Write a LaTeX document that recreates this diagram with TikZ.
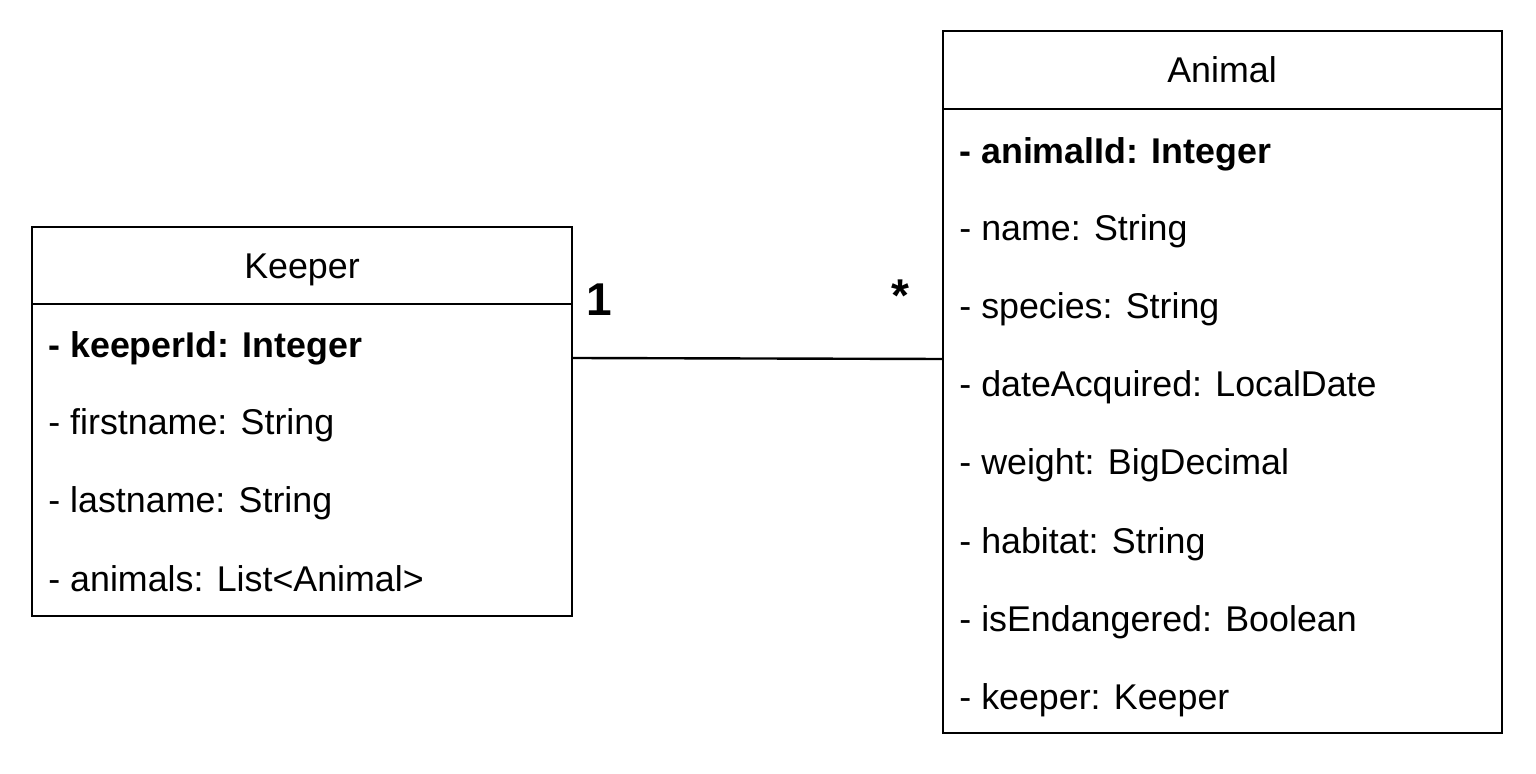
\documentclass[tikz,border=0pt]{standalone}
\usepackage{fontspec}
\setmainfont{Liberation Sans}
\usetikzlibrary{positioning}
\tikzset{
  classbox/.style={rectangle, draw=black, line width=1.4pt, anchor=north west,
                   inner sep=0pt, outer sep=0pt, fill=white},
  sepline/.style={line width=1.4pt},
  classname/.style={anchor=base, inner sep=0pt, font=\fontsize{17.9}{21}\selectfont},
  attr/.style={anchor=base west, inner sep=0pt, font=\fontsize{17.9}{21}\selectfont},
  keyattr/.style={attr, font=\fontsize{17.9}{21}\selectfont\bfseries},
  mult/.style={inner sep=0pt, font=\fontsize{23}{27}\selectfont\bfseries},
  assoc/.style={line width=1.2pt},
}

\begin{document}
\begin{tikzpicture}[x=0.5pt, y=-0.5pt]
  \useasboundingbox (0,0) rectangle (1536,774);
  % Keeper class
  \node[classbox, minimum width=270pt, minimum height=194.5pt] (keeper) at (32,227) {};
  \node[classname] (keepername) at (302,279) {Keeper};
  \draw[sepline] (keeper.west |- 0,304) -- (keeper.east |- 0,304);
  \node[keyattr] (keeperid) at (48,358) {- keeperId: Integer};
  \node[attr] (firstname) at (48,435) {- firstname: String};
  \node[attr] (lastname) at (48,513) {- lastname: String};
  \node[attr] (animals) at (48,591) {- animals: List<Animal>};
  % Animal class
  \node[classbox, minimum width=279.5pt, minimum height=351pt] (animal) at (943,31) {};
  \node[classname] (animalname) at (1222,83) {Animal};
  \draw[sepline] (animal.west |- 0,109) -- (animal.east |- 0,109);
  \node[keyattr] (animalid) at (959,164) {- animalId: Integer};
  \node[attr] (name) at (959,241) {- name: String};
  \node[attr] (species) at (959,319) {- species: String};
  \node[attr] (dateacq) at (959,397) {- dateAcquired: LocalDate};
  \node[attr] (weight) at (959,475) {- weight: BigDecimal};
  \node[attr] (habitat) at (959,553) {- habitat: String};
  \node[attr] (endangered) at (959,631) {- isEndangered: Boolean};
  \node[attr] (keeperref) at (959,709) {- keeper: Keeper};
  % association
  \draw[assoc] ([yshift=31.75pt]keeper.east) -- ([yshift=11.5pt]animal.west);
  \node[mult] (multone) at (599,300) {1};
  \node[mult] (multmany) at (900,296) {*};
\end{tikzpicture}
\end{document}
